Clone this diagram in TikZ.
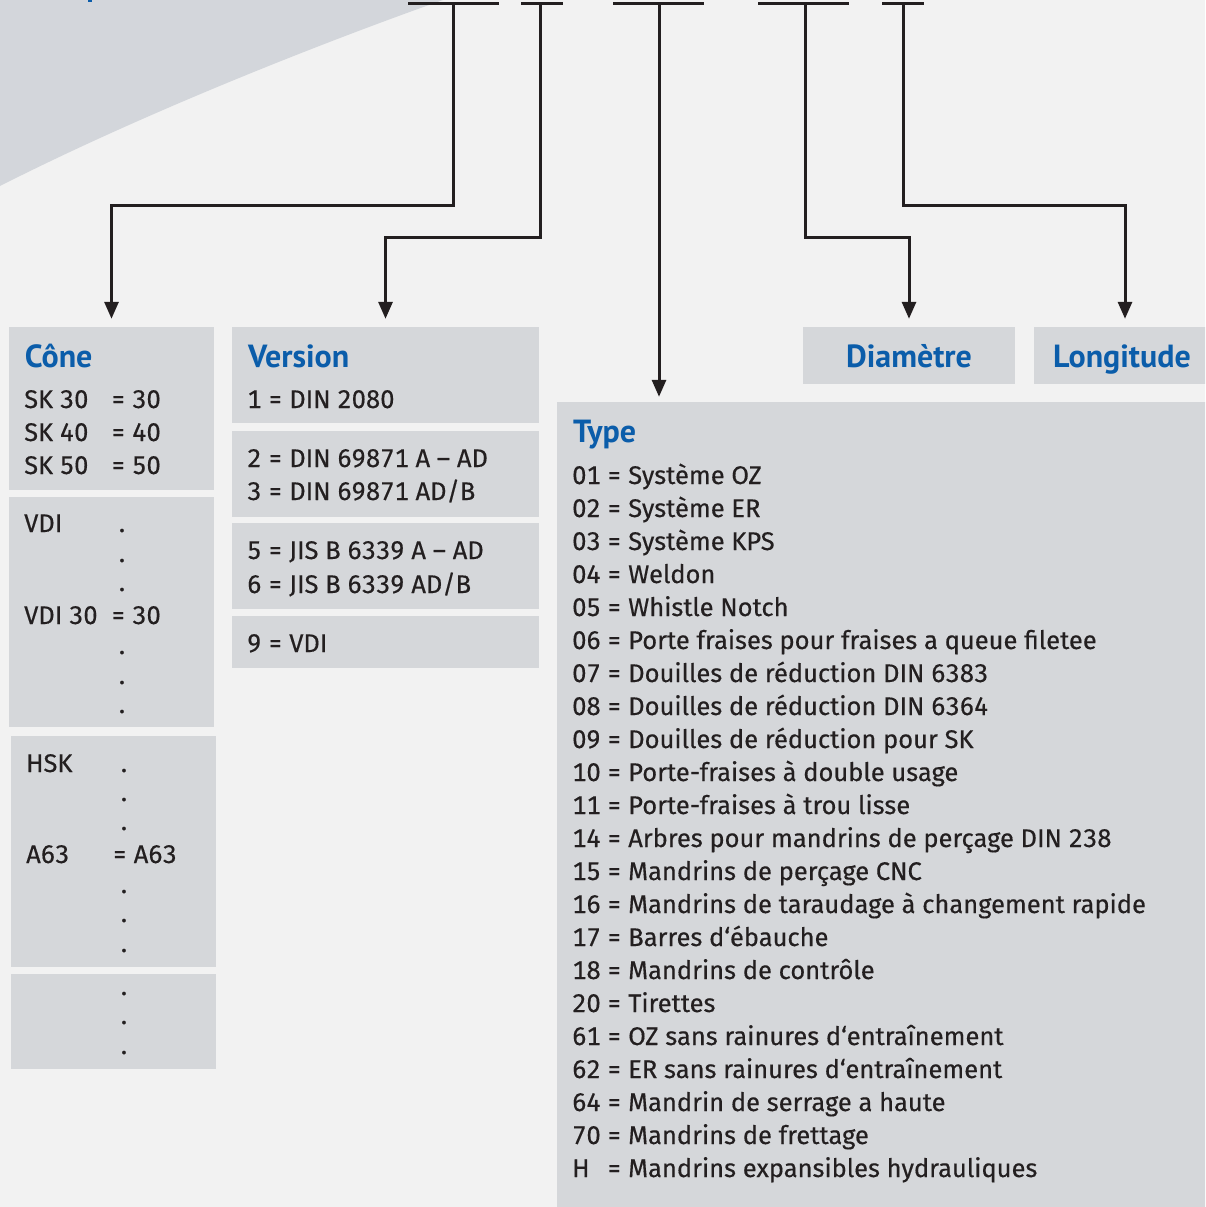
\documentclass[tikz,border=0pt]{standalone}
\usepackage{fontspec}
\setmainfont{PT Sans}
\newfontfamily\bodyf{Fira Sans}[FakeBold=0.4, Numbers=Monospaced]
\usetikzlibrary{arrows.meta,fit}
\definecolor{bgc}{HTML}{F2F2F2}
\definecolor{boxc}{HTML}{D5D7DA}
\definecolor{shapec}{HTML}{D3D6DB}
\definecolor{bluec}{HTML}{0B5DAA}
\definecolor{txtc}{HTML}{231F20}
\tikzset{
  box/.style={fill=boxc, draw=none, inner sep=0pt},
  txt/.style={anchor=base west, inner sep=0pt, text=txtc, font=\bodyf\fontsize{25.5}{30}\selectfont},
  dotc/.style={anchor=base, inner sep=0pt, text=txtc, font=\bodyf\fontsize{25.5}{30}\selectfont},
  head/.style={anchor=base west, inner sep=0pt, text=bluec, font=\bfseries\fontsize{32}{36}\selectfont},
  headc/.style={anchor=base, inner sep=0pt, text=bluec, font=\bfseries\fontsize{32}{36}\selectfont},
  bar/.style={line width=3.5pt, draw=txtc},
  conn/.style={line width=3pt, draw=txtc, -{Triangle[width=14pt,length=17pt]}, shorten >=8pt}
}
\begin{document}
\begin{tikzpicture}[x=1pt,y=-1pt]
\useasboundingbox (0,0) rectangle (1205,1207);
\clip (0,0) rectangle (1205,1207);
\fill[bgc] (0,0) rectangle (1205,1207);
\fill[shapec] (0,0) -- (443,0) .. controls (330,40) and (150,110) .. (0,186) -- cycle;
\fill[bluec] (88,0) rectangle (92,2.5);
% boxes
\node[box, fit={(9,327) (214,490)}] (cone) {};
\node[box, fit={(9,497) (214,727)}] (vdi) {};
\node[box, fit={(11,736) (216,967)}] (hsk) {};
\node[box, fit={(11,974) (216,1069)}] (more) {};
\node[box, fit={(232,327) (539,423)}] (ver1) {};
\node[box, fit={(232,431) (539,517)}] (ver2) {};
\node[box, fit={(232,523) (539,609)}] (ver3) {};
\node[box, fit={(232,616) (539,668)}] (ver4) {};
\node[box, fit={(803,327) (1015,384)}] (diam) {};
\node[box, fit={(1034,327) (1216,384)}] (long) {};
\node[box, fit={(557,402) (1216,1216)}] (type) {};
% top bars
\draw[bar] (408,3.5) -- (499,3.5);
\draw[bar] (521,3.5) -- (563,3.5);
\draw[bar] (613,3.5) -- (704,3.5);
\draw[bar] (758,3.5) -- (849,3.5);
\draw[bar] (882,3.5) -- (924,3.5);
\coordinate (b1) at (453,3.5);
\coordinate (b2) at (540,3.5);
\coordinate (b3) at (659,3.5);
\coordinate (b4) at (805,3.5);
\coordinate (b5) at (903,3.5);
% connectors
\draw[conn] (b1) |- (300,205) -| (cone.north);
\draw[conn] (b2) |- (450,237) -| (ver1.north);
\draw[conn, shorten >=5pt] (b3) -- (b3 |- type.north);
\draw[conn] (b4) |- (850,237) -| (diam.north);
\draw[conn] (b5) |- (1000,205) -| (long.north);
% Cone
\node[head] (hcone) at (24.6,367) {Côn\rlap{e}};
\node[txt] (sk30) at (24,408) {SK 30};
\node[txt] (sk30v) at (111,408) {= 30};
\node[txt] (sk40) at (24,441) {SK 40};
\node[txt] (sk40v) at (111,441) {= 40};
\node[txt] (sk50) at (24,474) {SK 50};
\node[txt] (sk50v) at (111,474) {= 50};
% VDI
\node[txt] (vdil) at (24,532) {VDI};
\node[dotc] (vd1) at (122,532) {.};
\node[dotc] (vd2) at (122,562) {.};
\node[dotc] (vd3) at (122,591) {.};
\node[txt] (vdi30) at (24,624) {VDI 30};
\node[txt] (vdi30v) at (111,624) {= 30};
\node[dotc] (vd4) at (122,654) {.};
\node[dotc] (vd5) at (122,684) {.};
\node[dotc] (vd6) at (122,713) {.};
% HSK
\node[txt] (hskl) at (26,772) {HSK};
\node[dotc] (hd1) at (124,772) {.};
\node[dotc] (hd2) at (124,801) {.};
\node[dotc] (hd3) at (124,830) {.};
\node[txt] (a63) at (26,863) {A63};
\node[txt] (a63v) at (112.5,863) {= A63};
\node[dotc] (hd4) at (124,893) {.};
\node[dotc] (hd5) at (124,922) {.};
\node[dotc] (hd6) at (124,952) {.};
\node[dotc] (md1) at (124,995) {.};
\node[dotc] (md2) at (124,1024) {.};
\node[dotc] (md3) at (124,1054) {.};
% Version
\node[head] (hver) at (248,367) {Version};
\node[txt] (v1) at (247,408) {1 = DIN 2080};
\node[txt] (v2) at (247,467) {2 = DIN 69871 A – AD};
\node[txt] (v3) at (247,500) {3 = DIN 69871 AD/B};
\node[txt] (v5) at (247,559) {5 = JIS B 6339 A – AD};
\node[txt] (v6) at (247,593) {6 = JIS B 6339 AD/B};
\node[txt] (v9) at (247,652) {9 = VDI};
% Diametre, Longitude
\node[headc] (hdiam) at (909,367) {Diamètre};
\node[headc] (hlong) at (1122,367) {Longitude};
% Type
\node[head] (htype) at (573,442) {Type};
\foreach \n/\t [count=\i from 0] in {
 01/Système OZ, 02/Système ER, 03/Système KPS, 04/Weldon, 05/Whistle Notch,
 06/Porte fraises pour fraises a queue filetee, 07/Douilles de réduction DIN 6383,
 08/Douilles de réduction DIN 6364, 09/Douilles de réduction pour SK,
 10/Porte-fraises à double usage, 11/Porte-fraises à trou lisse,
 14/Arbres pour mandrins de perçage DIN 238, 15/Mandrins de perçage CNC,
 16/Mandrins de taraudage à changement rapide, 17/Barres d‘ébauche,
 18/Mandrins de contrôle, 20/Tirettes, 61/OZ sans rainures d‘entraînement,
 62/ER sans rainures d‘entraînement, 64/Mandrin de serrage a haute,
 70/Mandrins de frettage, H/Mandrins expansibles hydrauliques}{
  \node[txt] (tn\i) at (572,484+33*\i) {\n};
  \node[txt] (tt\i) at (607,484+33*\i) {= \t};
}
\end{tikzpicture}
\end{document}
